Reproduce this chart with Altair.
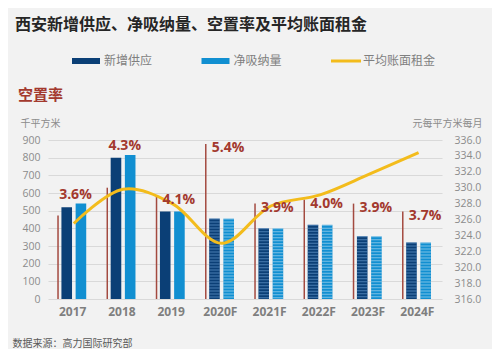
import altair as alt
import pandas as pd

# ---------------- data ----------------
years = ["2017", "2018", "2019", "2020F", "2021F", "2022F", "2023F", "2024F"]
new_supply = [520, 800, 495, 455, 400, 420, 355, 320]        # 千平方米
net_absorption = [540, 815, 495, 455, 400, 420, 355, 320]    # 千平方米
vacancy = [3.6, 4.3, 4.1, 5.4, 3.9, 4.0, 3.9, 3.7]           # %
rent = [325.5, 329.8, 328.0, 323.0, 327.7, 329.1, 331.7, 334.4]  # 元/平方米/月
series_names = ["新增供应", "净吸纳量", "平均账面租金"]

# ---------------- style ----------------
CJK = "Noto Sans CJK SC"
NUM = "Open Sans"
C_DARK = "#0b3f76"
C_LIGHT = "#118fd1"
C_LINE = "#f3bc1c"
C_RULE = "#a34a40"
C_LAB = "#a3392e"
C_AXIS = "#8c8c8c"
BG = "#f2f2f2"
W, H = 394, 159
BAR_MAX = 900
VAC_DOM = [1.5, 5.5]

df = pd.DataFrame({"year": years, "supply": new_supply, "absorb": net_absorption,
                   "vacancy": vacancy, "rent": rent})

x_enc = alt.X(
    "year:N", sort=years,
    scale=alt.Scale(paddingInner=0, paddingOuter=0),
    axis=alt.Axis(
        title="数据来源：高力国际研究部", titleX=-36, titleY=44, titleAlign="left",
        titleBaseline="middle", titleFont=CJK, titleFontSize=10, titleFontWeight="normal",
        titleColor="#595959", labelFont=NUM, labelFontWeight="bold", labelFontSize=12,
        labelColor="#7f7f7f", labelPadding=7, labelAngle=0, ticks=False, domain=False),
)
base = alt.Chart(df).encode(x=x_enc)

bar_scale = alt.Scale(domain=[0, BAR_MAX])
vac_scale = alt.Scale(domain=VAC_DOM)
rent_scale = alt.Scale(domain=[316, 336])

left_axis = alt.Axis(
    values=list(range(0, 901, 100)), title="千平方米", titleAngle=0, titleX=-28, titleY=-17,
    titleAlign="left", titleBaseline="middle", titleFont=CJK, titleFontSize=10,
    titleFontWeight="normal", titleColor=C_AXIS, labelFont=NUM, labelFontSize=10.5,
    labelColor=C_AXIS, labelPadding=8, ticks=False, domain=False, grid=True,
    gridColor="#d9d9d9", gridWidth=1)
right_axis = alt.Axis(
    orient="right", values=list(range(316, 337, 2)), format=".1f", title="元每平方米每月",
    titleAngle=0, titleX=40, titleY=-17, titleAlign="right", titleBaseline="middle",
    titleFont=CJK, titleFontSize=10, titleFontWeight="normal", titleColor=C_AXIS,
    labelFont=NUM, labelFontSize=10.5, labelColor=C_AXIS, labelPadding=12,
    ticks=False, domain=False, grid=False)

forecast = "indexof(datum.year, 'F') >= 0"

dark = base.mark_bar(width=10.6, xOffset=-5.9, color=C_DARK).encode(
    y=alt.Y("supply:Q", scale=bar_scale, axis=left_axis))
light = base.mark_bar(width=10.6, xOffset=8.3, color=C_LIGHT).encode(
    y=alt.Y("absorb:Q", scale=bar_scale, axis=None))
dark_tex = base.transform_filter(forecast).mark_rule(
    strokeWidth=10.6, xOffset=-5.9, strokeDash=[1, 2], color="#7fb3e6", opacity=0.55).encode(
    y=alt.Y("supply:Q", scale=bar_scale, axis=None), y2=alt.datum(0))
light_tex = base.transform_filter(forecast).mark_rule(
    strokeWidth=10.6, xOffset=8.3, strokeDash=[1, 2], color="white", opacity=0.45).encode(
    y=alt.Y("absorb:Q", scale=bar_scale, axis=None), y2=alt.datum(0))

rules = base.mark_rule(color=C_RULE, strokeWidth=1.5, xOffset=-14.6).encode(
    y=alt.Y("vacancy:Q", scale=vac_scale, axis=None), y2=alt.datum(VAC_DOM[0]))

line = base.mark_line(color=C_LINE, strokeWidth=3, interpolate="catmull-rom", xOffset=1.2).encode(
    y=alt.Y("rent:Q", scale=rent_scale, axis=right_axis))

calc = base.transform_calculate(
    bartop="max(datum.supply, datum.absorb)",
    label="format(datum.vacancy, '.1f') + '%'",
).transform_calculate(
    over=f"datum.bartop / {BAR_MAX} >= (datum.vacancy - {VAC_DOM[0]}) / {VAC_DOM[1] - VAC_DOM[0]}"
)
lab_style = dict(font=NUM, fontWeight="bold", fontSize=14, color=C_LAB, align="left",
                 baseline="middle")
lab_rule = calc.transform_filter("!datum.over").mark_text(xOffset=-8.6, dy=4, **lab_style).encode(
    y=alt.Y("vacancy:Q", scale=vac_scale, axis=None), text="label:N")
lab_bar = calc.transform_filter("datum.over").mark_text(xOffset=-13.5, dy=-9, **lab_style).encode(
    y=alt.Y("bartop:Q", scale=bar_scale, axis=None), text="label:N")

main = alt.layer(dark, light, dark_tex, light_tex, rules, line, lab_rule, lab_bar).resolve_scale(
    y="independent"
).properties(
    width=W, height=H,
    title=alt.TitleParams("空置率", anchor="start", frame="group", dx=-30, offset=15,
                          font=CJK, fontSize=15, fontWeight="bold", color=C_LAB),
)

# ---------------- legend (drawn from the series names) ----------------
leg_df = pd.DataFrame({"name": series_names})
leg_x = alt.X("name:N", sort=series_names,
              scale=alt.Scale(type="point", domain=series_names, range=[24, 283], padding=0),
              axis=None)
leg_color = alt.Color("name:N", scale=alt.Scale(domain=series_names,
                                                range=[C_DARK, C_LIGHT, C_LINE]), legend=None)
leg_base = alt.Chart(leg_df).encode(x=leg_x, y=alt.value(6))
sw_bar = leg_base.transform_filter(
    alt.FieldOneOfPredicate(field="name", oneOf=series_names[:2])
).mark_rule(strokeWidth=6, x2Offset=28).encode(x2="name:N", color=leg_color)
sw_line = leg_base.transform_filter(
    alt.FieldEqualPredicate(field="name", equal=series_names[2])
).mark_rule(strokeWidth=3, x2Offset=30).encode(x2="name:N", color=leg_color)
leg_text = leg_base.mark_text(align="left", baseline="middle", dx=32, font=CJK, fontSize=12,
                              color="#7f7f7f").encode(text="name:N")
legend_chart = alt.layer(sw_bar, sw_line, leg_text).properties(width=W, height=12)

chart = alt.vconcat(legend_chart, main, spacing=21).properties(
    title=alt.TitleParams("西安新增供应、净吸纳量、空置率及平均账面租金", anchor="start",
                          frame="bounds", dx=3, offset=22, font=CJK, fontSize=16,
                          fontWeight="bold", color="#262626"),
    background=BG,
    padding={"left": 4, "top": 9, "right": 10, "bottom": 1},
).configure_view(stroke=None)

chart.save("out.html", embed_options={"renderer": "svg", "actions": False})
